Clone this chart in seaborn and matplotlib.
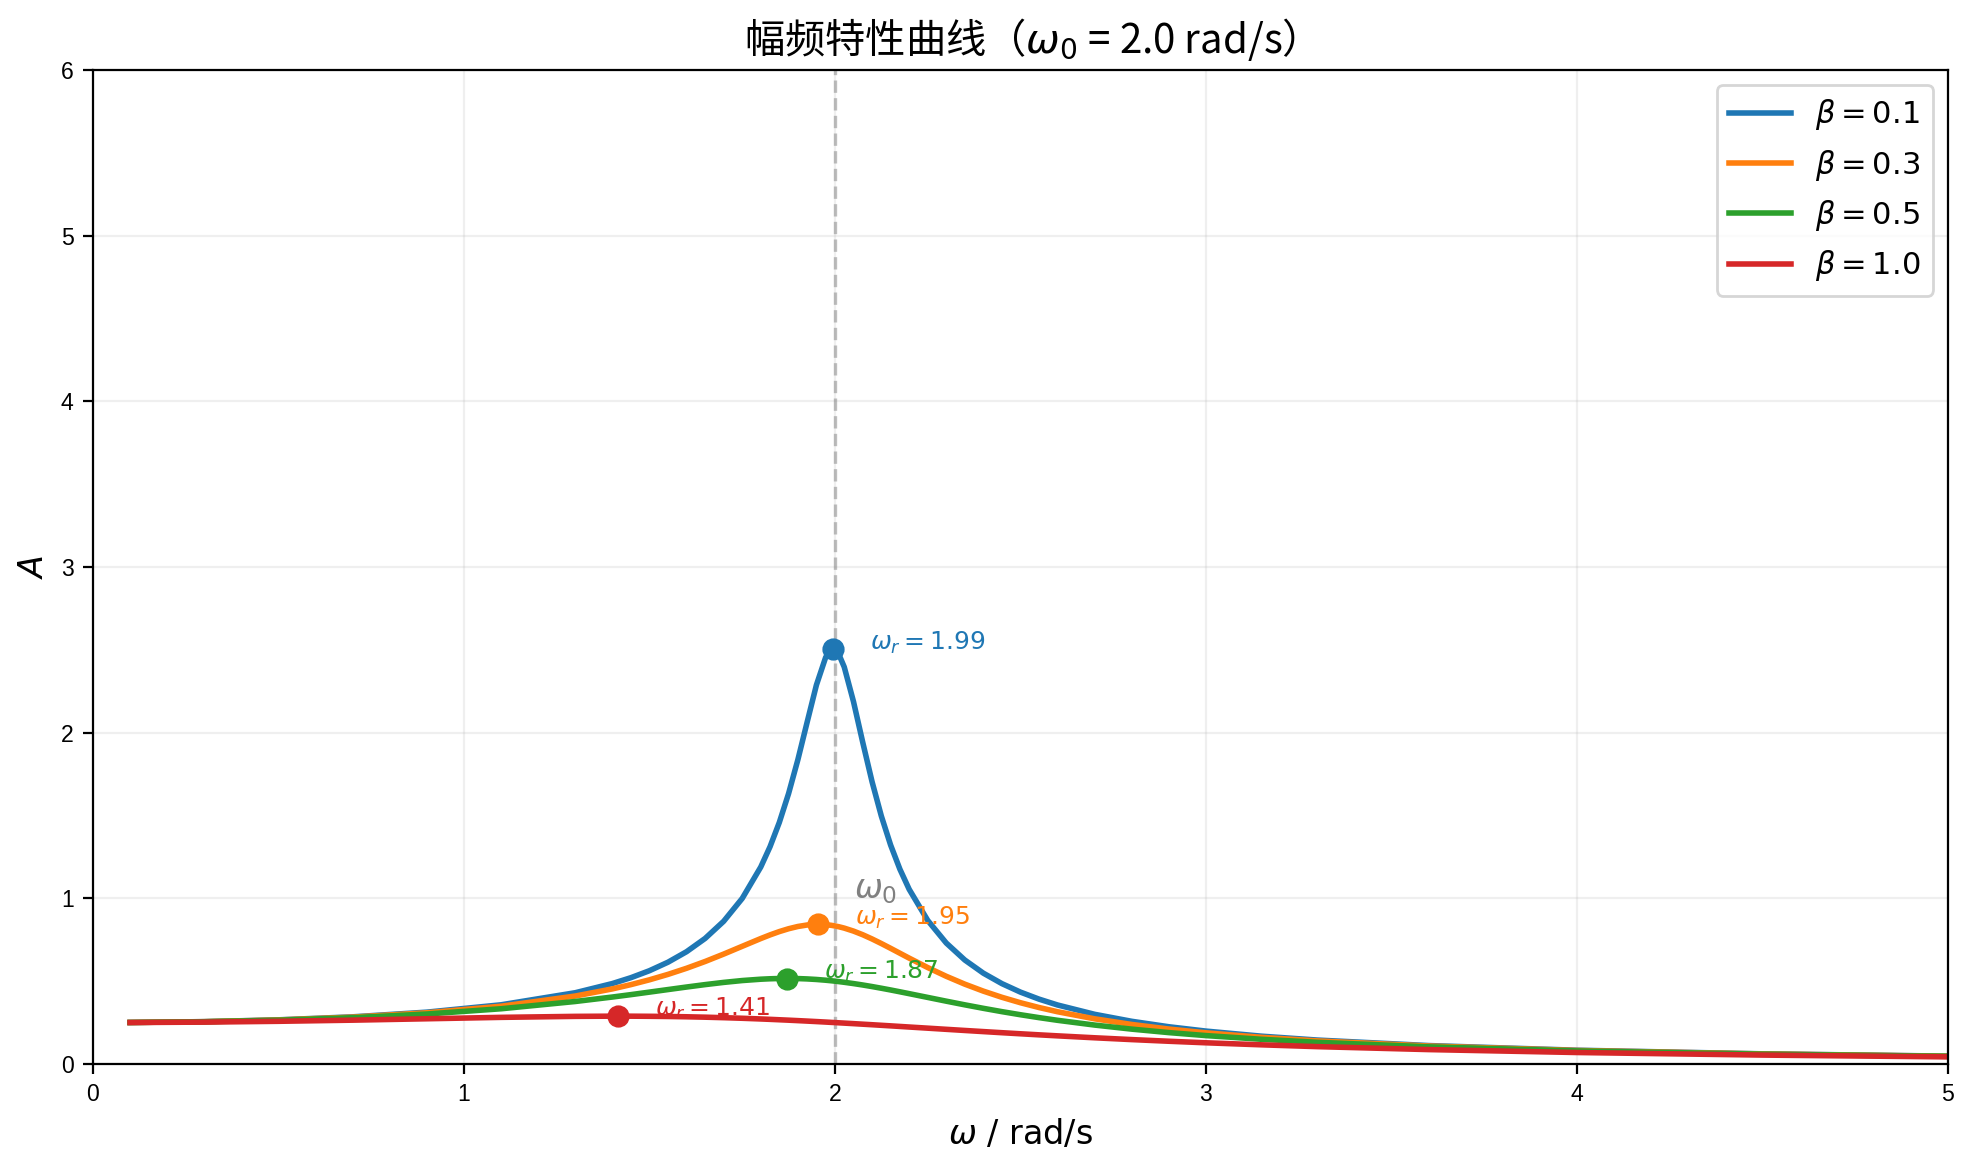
import matplotlib
matplotlib.use("Agg")
import matplotlib.pyplot as plt
import seaborn as sns

# amplitude vs frequency (w0 = 2.0 rad/s)
omega = [0.1, 0.3, 0.5, 0.7, 0.9, 1.1, 1.3, 1.4, 1.45, 1.5, 1.55, 1.6, 1.65, 1.7,
         1.75, 1.8, 1.825, 1.85, 1.875, 1.9, 1.925, 1.95, 1.975, 1.99, 2.0, 2.01,
         2.025, 2.05, 2.075, 2.1, 2.125, 2.15, 2.175, 2.2, 2.25, 2.3, 2.35, 2.4,
         2.45, 2.5, 2.55, 2.6, 2.7, 2.8, 2.9, 3.0, 3.15, 3.3, 3.6, 4.0, 4.5, 5.0]

A_b01 = [0.2506, 0.2557, 0.2666, 0.2847, 0.3130, 0.3573, 0.4302, 0.4856, 0.5210,
         0.5632, 0.6145, 0.6779, 0.7579, 0.8614, 0.9993, 1.1891, 1.3116, 1.4580,
         1.6325, 1.8365, 2.0633, 2.2875, 2.4551, 2.5000, 2.5000, 2.4753, 2.3963,
         2.1868, 1.9403, 1.7038, 1.4966, 1.3217, 1.1760, 1.0546, 0.8667, 0.7302,
         0.6276, 0.5482, 0.4851, 0.4339, 0.3916, 0.3561, 0.2999, 0.2577, 0.2248,
         0.1986, 0.1679, 0.1445, 0.1113, 0.0832, 0.0614, 0.0476]
A_b03 = [0.2506, 0.2555, 0.2658, 0.2829, 0.3091, 0.3488, 0.4102, 0.4533, 0.4791,
         0.5082, 0.5410, 0.5778, 0.6187, 0.6634, 0.7104, 0.7572, 0.7792, 0.7992,
         0.8164, 0.8300, 0.8390, 0.8428, 0.8409, 0.8371, 0.8333, 0.8287, 0.8202,
         0.8022, 0.7801, 0.7547, 0.7271, 0.6982, 0.6686, 0.6391, 0.5821, 0.5294,
         0.4819, 0.4398, 0.4026, 0.3698, 0.3409, 0.3154, 0.2727, 0.2386, 0.2109,
         0.1882, 0.1609, 0.1395, 0.1085, 0.0817, 0.0607, 0.0471]
A_b05 = [0.2506, 0.2550, 0.2643, 0.2794, 0.3017, 0.3334, 0.3773, 0.4042, 0.4187,
         0.4339, 0.4493, 0.4646, 0.4792, 0.4925, 0.5037, 0.5118, 0.5144, 0.5160,
         0.5164, 0.5156, 0.5135, 0.5102, 0.5057, 0.5024, 0.5000, 0.4974, 0.4932,
         0.4854, 0.4768, 0.4674, 0.4573, 0.4468, 0.4358, 0.4246, 0.4019, 0.3792,
         0.3571, 0.3360, 0.3160, 0.2973, 0.2799, 0.2637, 0.2350, 0.2104, 0.1895,
         0.1715, 0.1491, 0.1309, 0.1036, 0.0791, 0.0593, 0.0463]
A_b10 = [0.2503, 0.2528, 0.2577, 0.2646, 0.2730, 0.2815, 0.2875, 0.2887, 0.2886,
         0.2879, 0.2868, 0.2850, 0.2826, 0.2796, 0.2760, 0.2718, 0.2695, 0.2670,
         0.2645, 0.2618, 0.2590, 0.2561, 0.2531, 0.2512, 0.2500, 0.2487, 0.2468,
         0.2436, 0.2403, 0.2370, 0.2336, 0.2302, 0.2267, 0.2232, 0.2163, 0.2093,
         0.2024, 0.1956, 0.1889, 0.1824, 0.1760, 0.1699, 0.1582, 0.1473, 0.1373,
         0.1280, 0.1157, 0.1048, 0.0870, 0.0693, 0.0538, 0.0430]

betas = ["0.1", "0.3", "0.5", "1.0"]
curves = [A_b01, A_b03, A_b05, A_b10]
colors = ["#1f77b4", "#ff7f0e", "#2ca02c", "#d62728"]

# resonance peaks
peak_w = [1.995, 1.954, 1.871, 1.414]
peak_A = [2.503, 0.843, 0.516, 0.289]
peak_txt = ["1.99", "1.95", "1.87", "1.41"]

fig = plt.figure(figsize=(9.87, 5.85), dpi=200)
ax = fig.add_axes([0.0471, 0.0906, 0.9397, 0.8496])

ax.axvline(2.0, color="gray", linestyle="--", alpha=0.5, linewidth=1.2)

for b, A, c in zip(betas, curves, colors):
    sns.lineplot(x=omega, y=A, ax=ax, color=c, linewidth=2, label=r"$\beta = %s$" % b)

for w, a, t, c in zip(peak_w, peak_A, peak_txt, colors):
    ax.plot(w, a, "o", color=c, markersize=7, zorder=5)
    ax.text(w + 0.1, a, r"$\omega_r = %s$" % t, color=c, fontsize=9)

ax.text(2.05, 1.0, r"$\omega_0$", color="gray", fontsize=12)

ax.set_xlim(0, 5)
ax.set_ylim(0, 6)
ax.set_xticks(range(6), labels=[str(i) for i in range(6)],
              fontfamily="Liberation Sans", fontsize=8.3)
ax.set_yticks(range(7), labels=[str(i) for i in range(7)],
              fontfamily="Liberation Sans", fontsize=8.3)
ax.grid(True, alpha=0.2)

ax.set_xlabel(r"$\omega$ / rad/s", fontsize=12)
ax.set_ylabel(r"$A$", fontsize=12)
ax.set_title("幅频特性曲线（$\\omega_0$ = 2.0 rad/s）", fontsize=14.5,
             family=["Noto Sans CJK SC", "DejaVu Sans"])
ax.legend(loc="upper right", fontsize=11, handlelength=2.0, labelspacing=0.5)

fig.savefig("out.png", dpi=200)
